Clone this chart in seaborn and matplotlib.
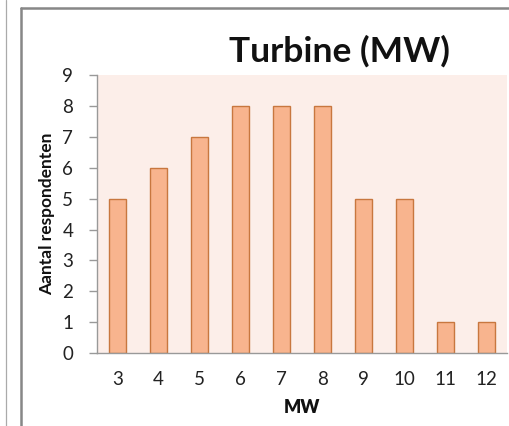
import matplotlib
matplotlib.use("Agg")
import matplotlib.pyplot as plt
import seaborn as sns
import pandas as pd
from matplotlib.lines import Line2D

# Turbine capacity categories and number of respondents per category
categories = ["3", "4", "5", "6", "7", "8", "9", "10", "11", "12"]
respondents = [5, 6, 7, 8, 8, 8, 5, 5, 1, 1]
y_ticks = list(range(0, 10))

df = pd.DataFrame({"MW": categories, "Aantal": respondents})

sns.set_theme(style="white")
plt.rcParams["font.family"] = ["Lato", "DejaVu Sans"]

fig = plt.figure(figsize=(5.10, 4.26), dpi=100, facecolor="white")
ax = fig.add_axes([0.190, 0.171, 0.804, 0.653])
ax.set_facecolor("#FCEEE9")

sns.barplot(data=df, x="MW", y="Aantal", order=categories, color="#F8B48E",
            saturation=1, width=0.42, edgecolor="#C8773F", linewidth=1.0, ax=ax)

ax.set_xlim(-0.5, len(categories) - 0.5)
ax.set_ylim(0, 9)
ax.set_yticks(y_ticks)
ax.set_yticklabels([str(v) for v in y_ticks], fontsize=13.5, color="#222222")
ax.set_xticks(range(len(categories)))
ax.set_xticklabels(categories, fontsize=13.5, color="#222222")
ax.set_xticks([i - 0.5 for i in range(len(categories) + 1)], minor=True)
ax.tick_params(axis="x", which="major", length=0, pad=13)
ax.tick_params(axis="x", which="minor", length=6, width=1, color="#999999", direction="out")
ax.tick_params(axis="y", which="major", length=6, width=1, color="#999999",
               direction="out", left=True, pad=11)

for side in ["top", "right"]:
    ax.spines[side].set_visible(False)
for side in ["left", "bottom"]:
    ax.spines[side].set_color("#999999")
    ax.spines[side].set_linewidth(1.0)

ax.set_xlabel("MW", fontsize=13, fontweight="heavy", labelpad=8, color="#111111")
ax.set_ylabel("Aantal respondenten", fontsize=12.5, fontweight="bold", labelpad=5, color="#111111")

fig.text(0.665, 0.880, "Turbine (MW)", fontsize=25.5, fontweight="bold",
         ha="center", va="center", color="#111111")

# Chart frame and the neighbouring panel edge
W, H = 510, 426
fig.add_artist(Line2D([20.5 / W, 20.5 / W], [0, 1 - 7.5 / H], transform=fig.transFigure,
                      color="#878787", linewidth=1.8))
fig.add_artist(Line2D([20.5 / W, 1.0], [1 - 7.5 / H, 1 - 7.5 / H], transform=fig.transFigure,
                      color="#878787", linewidth=1.8))
fig.add_artist(Line2D([6.5 / W, 6.5 / W], [0, 1], transform=fig.transFigure,
                      color="#AAAAAA", linewidth=0.9))

fig.savefig("out.png", dpi=100)
